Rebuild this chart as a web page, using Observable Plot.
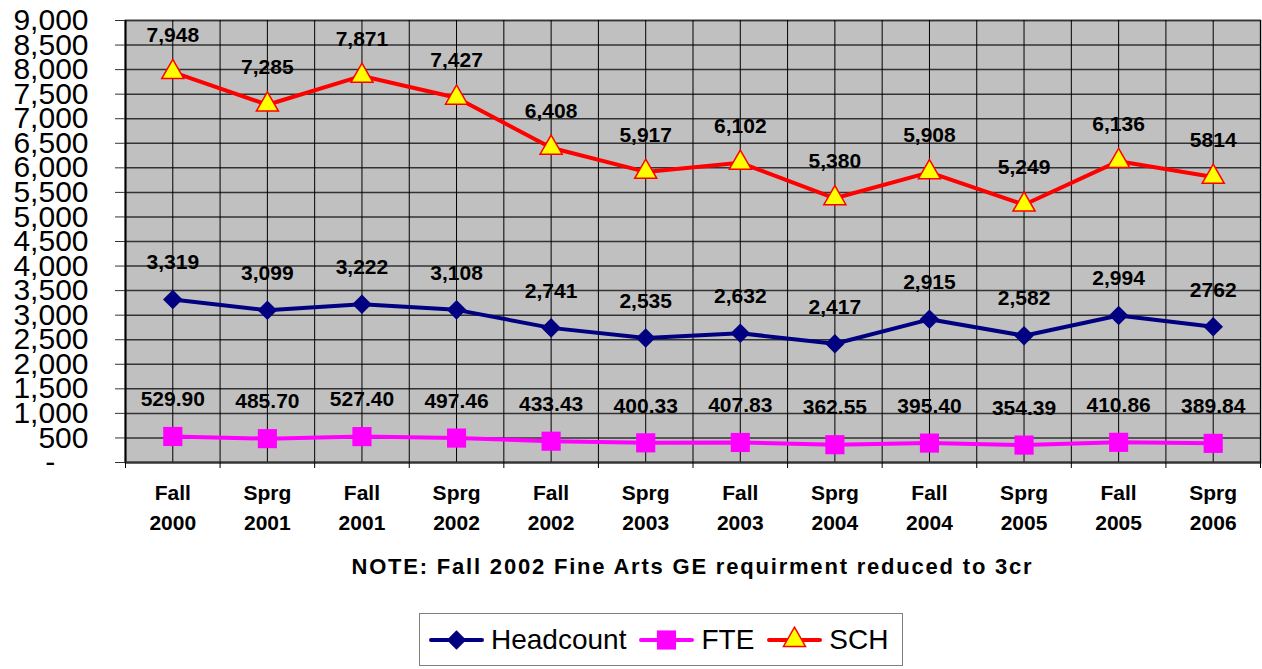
<!DOCTYPE html>
<html>
<head>
<meta charset="utf-8">
<script src="https://cdn.jsdelivr.net/npm/d3@7"></script>
<script src="https://cdn.jsdelivr.net/npm/@observablehq/plot@0.6"></script>
<style>
  body { margin: 0; background: #fff; font-family: "Liberation Sans", Arial, sans-serif; }
  #wrap { position: relative; width: 1262px; height: 669px; }
  #note { position: absolute; left: 125px; width: 1135px; top: 554px; text-align: center; font-weight: bold; font-size: 22px; letter-spacing: 1.8px; }
  #legend { position: absolute; left: 419px; top: 613px; width: 484px; height: 53px; border: 1px solid #808080; display: flex; align-items: center; box-sizing: border-box; padding-left: 9px; }
  #legend .item { display: flex; align-items: center; margin-right: 13px; }
  #legend .lbl { font-size: 28px; margin-left: 7px; }
  #legend svg { display: block; }
</style>
</head>
<body>
<div id="wrap">
  <div id="chart"></div>
  <div id="note">NOTE: Fall 2002 Fine Arts GE requirment reduced to 3cr</div>
  <div id="legend"></div>
</div>
<script>
const categories = ["Fall\n2000","Sprg\n2001","Fall\n2001","Sprg\n2002","Fall\n2002","Sprg\n2003","Fall\n2003","Sprg\n2004","Fall\n2004","Sprg\n2005","Fall\n2005","Sprg\n2006"];
const headcount = [3319,3099,3222,3108,2741,2535,2632,2417,2915,2582,2994,2762];
const headcountLabels = ["3,319","3,099","3,222","3,108","2,741","2,535","2,632","2,417","2,915","2,582","2,994","2762"];
const fte = [529.90,485.70,527.40,497.46,433.43,400.33,407.83,362.55,395.40,354.39,410.86,389.84];
const fteLabels = ["529.90","485.70","527.40","497.46","433.43","400.33","407.83","362.55","395.40","354.39","410.86","389.84"];
const sch = [7948,7285,7871,7427,6408,5917,6102,5380,5908,5249,6136,5814];
const schLabels = ["7,948","7,285","7,871","7,427","6,408","5,917","6,102","5,380","5,908","5,249","6,136","5814"];
const yTicks = d3.range(0, 9001, 500);

const series = [
  {name: "Headcount", values: headcount, labels: headcountLabels, color: "#000080", fill: "#000080", mstroke: "#000080", symbol: "diamond2", r: 8.8},
  {name: "FTE", values: fte, labels: fteLabels, color: "#FF00FF", fill: "#FF00FF", mstroke: "#FF00FF", symbol: "square", r: 10.8},
  {name: "SCH", values: sch, labels: schLabels, color: "#FF0000", fill: "#FFFF00", mstroke: "#FF0000", symbol: "triangle", r: 8.2}
];
const idx = categories.map((_, i) => i);
const bounds = d3.range(-0.5, categories.length, 1);

const marks = [
  Plot.frame({fill: "#C0C0C0", stroke: "#8a8a8a", strokeWidth: 2}),
  Plot.gridY(yTicks, {stroke: "#333", strokeOpacity: 1, strokeWidth: 1.5}),
  Plot.gridX(bounds, {stroke: "#000", strokeOpacity: 1, strokeWidth: 1}),
  Plot.gridX(idx, {stroke: "#000", strokeOpacity: 1, strokeWidth: 1}),
  Plot.ruleX([-0.5], {stroke: "#000", strokeWidth: 2}),
  Plot.ruleY([0], {stroke: "#333", strokeWidth: 2}),
  Plot.axisY(yTicks, {label: null, tickSize: 10, tickPadding: 27, fontSize: 30, stroke: "#333",
    tickFormat: d => d === 0 ? "-\u00a0\u00a0\u00a0\u00a0" : d3.format(",")(d)}),
  Plot.axisX(bounds, {label: null, tickSize: 6, tickFormat: () => "", stroke: "#000"}),
  Plot.text(idx, {x: d => d, text: d => categories[d], frameAnchor: "bottom", lineAnchor: "top", dy: 16,
    fontSize: 21, fontWeight: "bold", lineHeight: 1.43, fill: "#000"})
];
for (const s of series) {
  const data = s.values.map((v, i) => ({i, v, label: s.labels[i]}));
  marks.push(Plot.line(data, {x: "i", y: "v", stroke: s.color, strokeWidth: 4}));
  marks.push(Plot.dot(data, {x: "i", y: "v", symbol: s.symbol, r: s.r, fill: s.fill, stroke: s.mstroke, strokeWidth: s.name === "SCH" ? 1.5 : 0}));
  marks.push(Plot.text(data, {x: "i", y: "v", text: "label", dy: -37, fontSize: 21, fontWeight: "bold", fill: "#000"}));
}

const chart = Plot.plot({
  width: 1262,
  height: 545,
  marginTop: 20,
  marginLeft: 125,
  marginRight: 2,
  marginBottom: 83,
  style: {fontFamily: "'Liberation Sans', Arial, sans-serif", background: "#fff", color: "#000"},
  x: {type: "linear", domain: [-0.5, categories.length - 0.5], axis: null, label: null},
  y: {domain: [0, 9000], axis: null, label: null},
  marks
});
document.getElementById("chart").appendChild(chart);

// Legend
const legend = d3.select("#legend");
for (const s of series) {
  const item = legend.append("div").attr("class", "item");
  const svg = item.append("svg").attr("width", 55).attr("height", 34);
  svg.append("line").attr("x1", 2).attr("x2", 53).attr("y1", 17).attr("y2", 17)
    .attr("stroke", s.color).attr("stroke-width", 4).attr("stroke-linecap", "round");
  const sym = {diamond2: d3.symbolDiamond2, square: d3.symbolSquare, triangle: d3.symbolTriangle}[s.symbol];
  svg.append("path").attr("transform", "translate(27.5,17)")
    .attr("d", d3.symbol(sym, Math.PI * s.r * s.r)())
    .attr("fill", s.fill).attr("stroke", s.mstroke).attr("stroke-width", s.name === "SCH" ? 1.5 : 0);
  item.append("span").attr("class", "lbl").text(s.name);
}
</script>
</body>
</html>
